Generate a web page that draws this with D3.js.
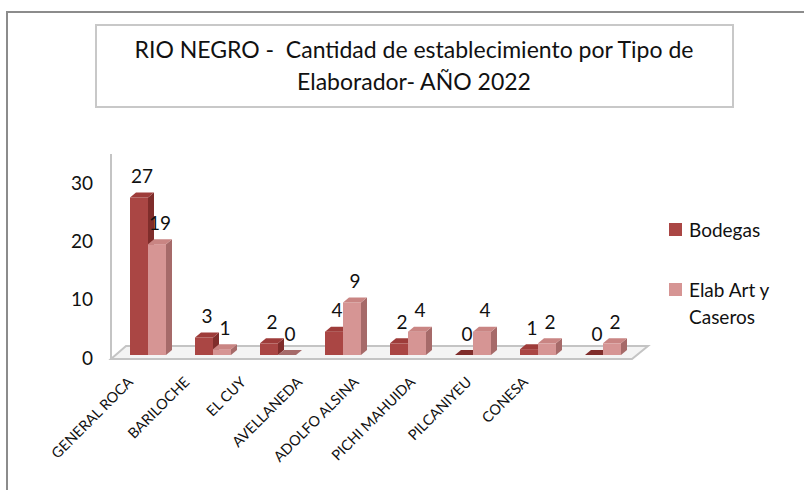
<!DOCTYPE html>
<html><head><meta charset="utf-8">
<script src="https://cdn.jsdelivr.net/npm/d3@7"></script>
<style>
body{margin:0;background:#fff;}
svg{display:block;font-family:Lato,"Liberation Sans",sans-serif;}
</style></head>
<body>
<svg id="chart" width="804" height="490"></svg>
<script>
const categories = ["GENERAL ROCA","BARILOCHE","EL CUY","AVELLANEDA","ADOLFO ALSINA","PICHI MAHUIDA","PILCANIYEU","CONESA"];
const seriesNames = ["Bodegas","Elab Art y Caseros"];
const bodegas = [27,3,2,4,2,0,1,0];
const elab = [19,1,0,9,4,4,2,2];
const yTicks = [0,10,20,30];
const titleLines = ["RIO NEGRO -  Cantidad de establecimiento por Tipo de","Elaborador- AÑO 2022"];

const colors = {
  "Bodegas": {front:"#AA4644", top:"#9E3C3A", side:"#7F2D2B"},
  "Elab Art y Caseros": {front:"#D69594", top:"#C98583", side:"#A66A69"}
};

const svg = d3.select("#chart");

// outer frame
svg.append("rect").attr("x",7).attr("y",12).attr("width",830).attr("height",520)
  .attr("fill","#fff").attr("stroke","#8c8c8c").attr("stroke-width",2);

// title box
svg.append("rect").attr("x",96).attr("y",25).attr("width",637).attr("height",82)
  .attr("fill","#fff").attr("stroke","#c8c8c8").attr("stroke-width",2);
svg.append("g").selectAll("text").data(titleLines).join("text")
  .attr("x",414).attr("y",(d,i)=>58+i*32)
  .attr("text-anchor","middle").attr("font-size",23).attr("fill","#111")
  .style("white-space","pre").attr("xml:space","preserve")
  .text(d=>d);

const x = d3.scaleBand().domain(categories).range([115,635]).padding(0);
const x1 = d3.scaleBand().domain(seriesNames).range([15,51]).padding(0);
const y = d3.scaleLinear().domain([0,30]).range([356,181]);
const labelX = d3.scalePoint().domain(categories).range([134,529]);
const dx = 6, dy = 5;
const floorFront = 359, floorBack = 346;

// wall line and floor
svg.append("line").attr("x1",111).attr("x2",111).attr("y1",154).attr("y2",floorFront)
  .attr("stroke","#c4c4c4").attr("stroke-width",2);
svg.append("path")
  .attr("d",`M111,${floorFront}L632,${floorFront}L648,${floorBack}L126,${floorBack}Z`)
  .attr("fill","#f4f4f4").attr("stroke","#c4c4c4").attr("stroke-width",2);

// y tick labels
svg.append("g").selectAll("text").data(yTicks).join("text")
  .attr("x",93).attr("y",d=>y(d)+2).attr("dy","0.35em")
  .attr("text-anchor","end").attr("font-size",19).attr("fill","#111")
  .text(d=>d);

// bars
const data = [];
categories.forEach((c,i)=>{
  data.push({cat:c, s:"Bodegas", v:bodegas[i]});
  data.push({cat:c, s:"Elab Art y Caseros", v:elab[i]});
});
const base = y(0)-1;
const g = svg.append("g");
data.forEach(d=>{
  const x0 = x(d.cat)+x1(d.s), w = x1.bandwidth();
  const top = y(d.v)-1;
  const col = colors[d.s];
  if (d.v>0){
    g.append("path").attr("d",`M${x0+w},${top}L${x0+w+dx},${top-dy}L${x0+w+dx},${base-dy}L${x0+w},${base}Z`)
      .attr("fill",col.side);
    g.append("rect").attr("x",x0).attr("y",top).attr("width",w).attr("height",base-top)
      .attr("fill",col.front);
  }
  g.append("path").attr("d",`M${x0},${top}L${x0+w},${top}L${x0+w+dx},${top-dy}L${x0+dx},${top-dy}Z`)
    .attr("fill",d.v>0?col.top:col.side);
  g.append("text").attr("x",x0+w/2+3).attr("y",top-21).attr("dy","0.35em")
    .attr("text-anchor","middle").attr("font-size",19).attr("fill","#111")
    .text(d.v);
});

// category labels
svg.append("g").selectAll("text").data(categories).join("text")
  .attr("transform",d=>`translate(${labelX(d)},383) rotate(-45)`)
  .attr("text-anchor","end").attr("font-size",14.5).attr("fill","#111")
  .text(d=>d);

// legend
const leg = svg.append("g");
const legY = [230,290];
seriesNames.forEach((s,i)=>{
  leg.append("rect").attr("x",669).attr("y",legY[i]-7).attr("width",13).attr("height",13)
    .attr("fill",colors[s].front);
});
leg.append("text").attr("x",689).attr("y",legY[0]).attr("dy","0.35em").attr("font-size",19).attr("fill","#111").text("Bodegas");
leg.append("text").attr("x",689).attr("y",legY[1]).attr("font-size",19).attr("fill","#111")
  .selectAll("tspan").data(["Elab Art y","Caseros"]).join("tspan")
  .attr("x",689).attr("dy",(d,i)=>i===0?"0.35em":"1.45em").text(d=>d);
</script>
</body></html>
